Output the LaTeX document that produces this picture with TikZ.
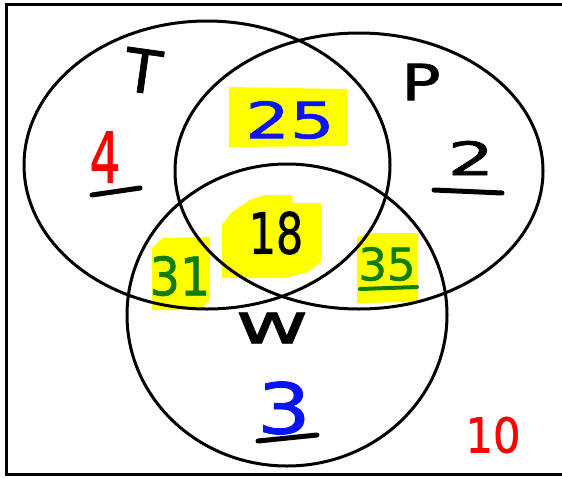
\documentclass[tikz,border=0pt]{standalone}
\usepackage{fontspec}
\setmainfont{DejaVu Sans}
\newfontfamily\markerfont[FakeBold=1.2]{DejaVu Sans}
\definecolor{hlyellow}{RGB}{255,255,0}
\definecolor{penred}{RGB}{255,0,0}
\definecolor{penblue}{RGB}{10,20,245}
\definecolor{pengreen}{RGB}{15,125,15}
\newcommand\hwtext[3]{\scalebox{#2}[1]{\markerfont\fontsize{#1}{#1}\selectfont #3}}
\begin{document}
\begin{tikzpicture}[x=1pt,y=1pt,
  ring/.style={line width=3pt},
  hl/.style={fill=hlyellow},
  uline/.style={line width=5pt, line cap=round},
  lbl/.style={inner sep=0pt, outer sep=0pt}]
\useasboundingbox (0,0) rectangle (562,-477);
\fill[white] (0,0) rectangle (562,-477);
% yellow highlights
\fill[hl] (229,-87) -- (347,-89) -- (347,-146) -- (229,-147) -- cycle;
\fill[hl] (222,-225) -- (232,-212) -- (250,-200) -- (265,-195) -- (292,-195) -- (293,-203) -- (321,-203) -- (321,-262) -- (308,-272) -- (285,-278) -- (222,-278) -- cycle;
\fill[hl] (152,-248) -- (163,-238) -- (210,-237) -- (210,-300) -- (200,-310) -- (152,-310) -- cycle;
\fill[hl] (357,-237) -- (372,-233) -- (418,-233) -- (418,-302) -- (357,-303) -- cycle;
% circles
\draw[ring] (207,-165) ellipse [x radius=183, y radius=144];
\draw[ring] (359,-171) ellipse [x radius=184, y radius=138];
\draw[ring] (287,-315) ellipse [x radius=160, y radius=151];
% frame
\draw[line width=3pt] (6.5,-4.5) rectangle (590,-474.5);
% labels
\node[lbl, rotate=-8] (setT) at (143,-71) {\hwtext{60}{1}{T}};
\node[lbl] (setP) at (421,-82) {\hwtext{50}{1.3}{P}};
\node[lbl] (setW) at (272,-328) {\hwtext{56}{1.6}{w}};
\node[lbl, text=penred] (nT) at (105,-157) {\hwtext{70}{0.7}{4}};
\node[lbl, text=penblue] (nTP) at (290,-120) {\hwtext{50}{1.4}{25}};
\node[lbl] (nP) at (471,-158) {\hwtext{46}{1.6}{2}};
\node[lbl] (nTPW) at (276,-233) {\hwtext{57}{0.75}{18}};
\node[lbl, text=pengreen] (nTW) at (180,-276) {\hwtext{53}{0.9}{31}};
\node[lbl, text=pengreen] (nPW) at (387,-264) {\hwtext{45}{1.0}{35}};
\node[lbl, text=penblue] (nW) at (284,-408) {\hwtext{70}{1.2}{3}};
\node[lbl, text=penred] (nOut) at (493,-435) {\hwtext{48}{0.9}{10}};
% underlines
\coordinate (u4a) at (92,-195); \coordinate (u4b) at (140,-188);
\coordinate (u2a) at (434,-190); \coordinate (u2b) at (502,-193);
\coordinate (u35a) at (360,-289); \coordinate (u35b) at (417,-287);
\coordinate (u3a) at (258,-441); \coordinate (u3b) at (317,-435);
\draw[uline] (u4a) -- (u4b);
\draw[uline] (u2a) -- (u2b);
\draw[uline, pengreen, line width=4pt] (u35a) -- (u35b);
\draw[uline] (u3a) -- (u3b);
\end{tikzpicture}
\end{document}
